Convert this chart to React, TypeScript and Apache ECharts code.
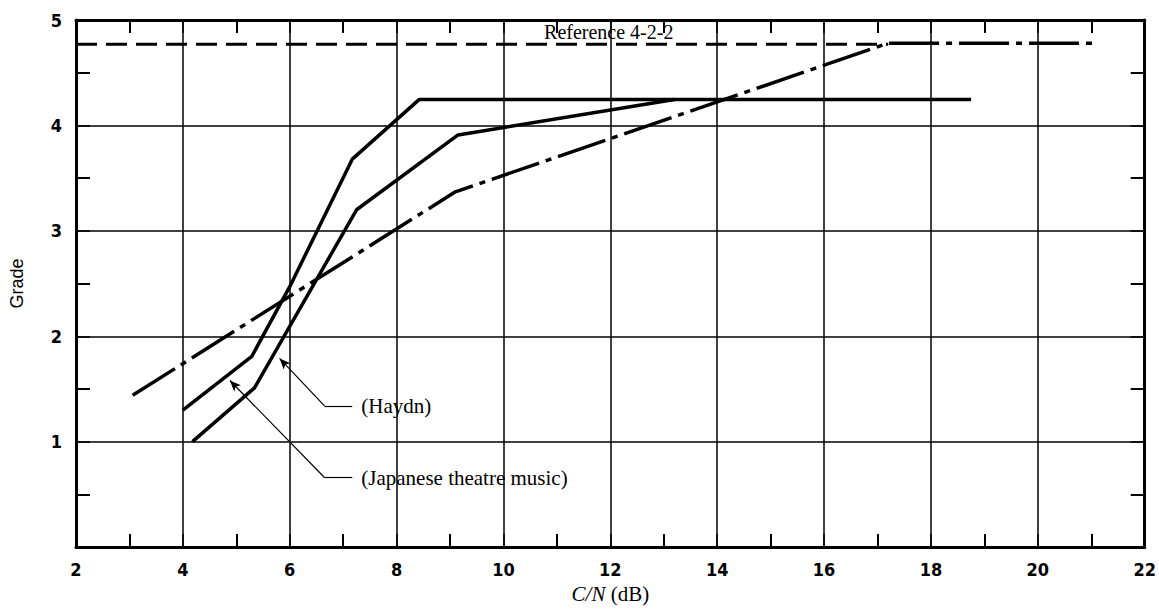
import React, { useEffect, useRef } from "react";
import * as echarts from "echarts";

// ---- Data (C/N in dB, Grade) ----
const xTicks = [2, 4, 6, 8, 10, 12, 14, 16, 18, 20, 22];
const yTicks = [0, 1, 2, 3, 4, 5];

const referenceLine: [number, number][] = [
  [2, 4.77],
  [17.2, 4.77],
];
const dashDotCurve: [number, number][] = [
  [3.06, 1.44],
  [9.1, 3.37],
  [17.2, 4.78],
  [21.05, 4.78],
];
const haydnCurve: [number, number][] = [
  [4.18, 1.0],
  [5.34, 1.51],
  [7.25, 3.2],
  [9.15, 3.91],
  [13.2, 4.245],
];
const japaneseCurve: [number, number][] = [
  [4.0, 1.3],
  [5.29, 1.81],
  [6.0, 2.47],
  [7.17, 3.68],
  [8.42, 4.245],
  [18.75, 4.245],
];

// annotation anchors (data coordinates)
const referenceLabelAt: [number, number] = [11.97, 4.89];
const haydnLeader: [number, number][] = [
  [5.81, 1.79],
  [6.65, 1.34],
  [7.17, 1.34],
];
const japaneseLeader: [number, number][] = [
  [4.88, 1.58],
  [6.65, 0.66],
  [7.17, 0.66],
];

const TICK_FONT = '"Liberation Sans Narrow", "DejaVu Sans Condensed", "DejaVu Sans", sans-serif';
const SERIF = '"Liberation Serif", "DejaVu Serif", serif';

function leader(points: [number, number][], text: string) {
  return {
    silent: true,
    symbol: ["none", "none"],
    lineStyle: { color: "#000", width: 1.2, type: "solid" as const },
    label: { show: false },
    emphasis: { disabled: true },
    data: [
      [
        { coord: points[0], symbol: "arrow", symbolSize: [7, 11] },
        { coord: points[1], symbol: "none" },
      ],
      [
        { coord: points[1], symbol: "none" },
        {
          coord: points[2],
          symbol: "none",
          label: {
            show: true,
            position: "end",
            formatter: text,
            color: "#000",
            fontFamily: SERIF,
            fontSize: 21,
            distance: 9,
          },
        },
      ],
    ],
  };
}

export default function App() {
  const ref = useRef<HTMLDivElement>(null);

  useEffect(() => {
    document.body.style.margin = "0";
    if (!ref.current) return;
    const chart = echarts.init(ref.current, undefined, { renderer: "svg" });

    const baseX = {
      type: "value" as const,
      min: xTicks[0],
      max: xTicks[xTicks.length - 1],
      interval: 2,
      axisLine: { show: true, onZero: false, lineStyle: { color: "#000", width: 3 } },
      axisTick: { show: true, inside: true, length: 13, lineStyle: { color: "#000", width: 1.5 } },
      minorTick: { show: true, splitNumber: 2, length: 13, lineStyle: { color: "#000", width: 2 } },
    };
    const baseY = {
      type: "value" as const,
      min: yTicks[0],
      max: yTicks[yTicks.length - 1],
      interval: 1,
      axisLine: { show: true, onZero: false, lineStyle: { color: "#000", width: 3 } },
      axisTick: { show: true, inside: true, length: 14, lineStyle: { color: "#000", width: 1.5 } },
      minorTick: { show: true, splitNumber: 2, length: 14, lineStyle: { color: "#000", width: 2 } },
    };

    chart.setOption({
      animation: false,
      backgroundColor: "#fff",
      grid: { left: 76, right: 12, top: 20, bottom: 52, containLabel: false },
      xAxis: [
        {
          ...baseX,
          position: "bottom",
          name: "{i|C/N} (dB)",
          nameLocation: "middle",
          nameGap: 32,
          nameTextStyle: {
            color: "#000",
            fontFamily: SERIF,
            fontSize: 21,
            rich: { i: { fontStyle: "italic", fontFamily: SERIF, fontSize: 21, color: "#000" } },
          },
          axisLabel: {
            show: true,
            color: "#000",
            fontFamily: TICK_FONT,
            fontWeight: "bold",
            fontSize: 18,
            margin: 13,
          },
          splitLine: { show: true, lineStyle: { color: "#000", width: 1.5 } },
        },
        {
          ...baseX,
          position: "top",
          axisLabel: { show: false },
          splitLine: { show: false },
        },
      ],
      yAxis: [
        {
          ...baseY,
          position: "left",
          name: "Grade",
          nameLocation: "middle",
          nameGap: 50,
          nameTextStyle: { color: "#000", fontFamily: '"Liberation Sans", Arial, sans-serif', fontSize: 18 },
          axisLabel: {
            show: true,
            color: "#000",
            fontFamily: TICK_FONT,
            fontWeight: "bold",
            fontSize: 18,
            margin: 14,
            formatter: (v: number) => (v === 0 ? "" : String(v)),
          },
          splitLine: { show: true, lineStyle: { color: "#000", width: 1.5 } },
        },
        {
          ...baseY,
          position: "right",
          axisLabel: { show: false },
          splitLine: { show: false },
        },
      ],
      series: [
        {
          name: "Reference 4-2-2",
          type: "line",
          data: referenceLine,
          symbol: "none",
          lineStyle: { color: "#000", width: 3, type: [21, 9] },
          markPoint: {
            silent: true,
            symbol: "circle",
            symbolSize: 0,
            data: [
              {
                coord: referenceLabelAt,
                label: {
                  show: true,
                  position: "inside",
                  formatter: "Reference 4-2-2",
                  color: "#000",
                  fontFamily: SERIF,
                  fontSize: 20,
                },
              },
            ],
          },
        },
        {
          name: "Dash-dot",
          type: "line",
          data: dashDotCurve,
          symbol: "none",
          lineStyle: { color: "#000", width: 3.5, type: [50, 7, 6, 7] },
        },
        {
          name: "Haydn",
          type: "line",
          data: haydnCurve,
          symbol: "none",
          lineStyle: { color: "#000", width: 3.5 },
          markLine: leader(haydnLeader, "(Haydn)"),
        },
        {
          name: "Japanese theatre music",
          type: "line",
          data: japaneseCurve,
          symbol: "none",
          lineStyle: { color: "#000", width: 3.5 },
          markLine: leader(japaneseLeader, "(Japanese theatre music)"),
        },
      ],
    });

    return () => chart.dispose();
  }, []);

  return <div ref={ref} style={{ width: 1159, height: 609 }} />;
}
